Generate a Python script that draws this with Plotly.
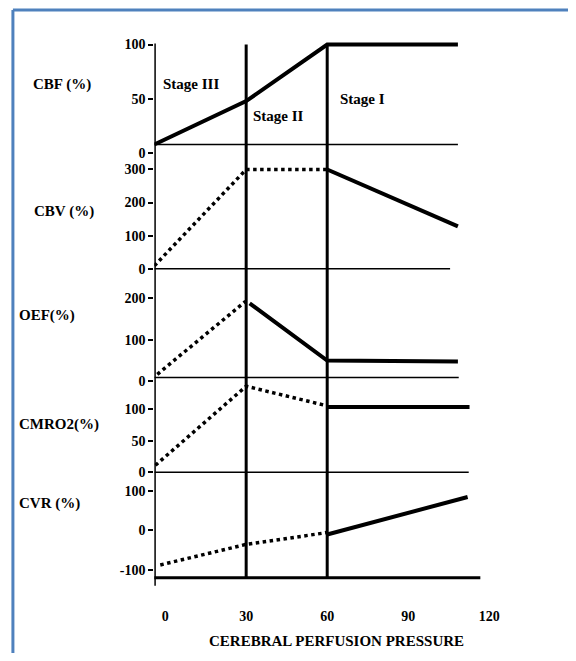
import plotly.graph_objects as go

# page is 576x661; the browser body has an 8px margin on every side,
# so the figure is sized to fill the page exactly and placed at (8, 8)
PAGE_W, PAGE_H = 576, 661
OFF = 8
W, H = PAGE_W - 2 * OFF, PAGE_H - 2 * OFF

# ---------------- data ----------------
x_ticks = [0, 30, 60, 90, 120]
x_tick_labels = ["0", "30", "60", "90", "120"]
stage_bounds = [30, 60]
x_axis_start = -4.0
x_axis_end = 116.7

panel_labels = ["CBF (%)", "CBV (%)", "OEF(%)", "CMRO2(%)", "CVR (%)"]
stage_labels = ["Stage III", "Stage II", "Stage I"]
x_title = "CEREBRAL PERFUSION PRESSURE"

# CBF
cbf_x = [-4.0, 30, 60, 108.4]
cbf_y = [8, 48, 100, 100]
cbf_ticks = [0, 50, 100]
cbf_tick_labels = ["0", "50", "100"]
cbf_base = 8
cbf_base_end = 108.4

# CBV
cbv_dot_x = [-4.0, 30, 60]
cbv_dot_y = [9, 300, 300]
cbv_solid_x = [60, 108.4]
cbv_solid_y = [300, 128]
cbv_ticks = [0, 100, 200, 300]
cbv_tick_labels = ["0", "100", "200", "300"]
cbv_base = 0
cbv_base_end = 105.5

# OEF
oef_dot_x = [-2.9, 29.8]
oef_dot_y = [17, 193]
oef_solid_x = [31.3, 60, 108.4]
oef_solid_y = [188, 50, 48]
oef_ticks = [0, 100, 200]
oef_tick_labels = ["0", "100", "200"]
oef_base = 9.5
oef_base_end = 108.7

# CMRO2
cmro2_dot_x = [-3.6, 30, 60]
cmro2_dot_y = [11, 136, 105]
cmro2_solid_x = [60, 112.7]
cmro2_solid_y = [103, 103]
cmro2_ticks = [0, 50, 100]
cmro2_tick_labels = ["0", "50", "100"]
cmro2_base = 0
cmro2_base_end = 112.4

# CVR
cvr_dot_x = [-1.8, 30, 60]
cvr_dot_y = [-88, -36, -6]
cvr_solid_x = [60, 112.0]
cvr_solid_y = [-11, 84]
cvr_ticks = [-100, 0, 100]
cvr_tick_labels = ["-100", "0", "100"]


# ---------------- layout helpers (page pixels -> paper fractions) ----------------
def fx(px):
    return (px - OFF) / W


def fy(py):
    return 1 - (py - OFF) / H


FONT = "Liberation Serif"
BLACK = "black"

# panel geometry: (axis name, page-pixel of value 0, pixels per unit, domain top px, domain bottom px)
panels = {
    "CBF": ("y2", 153.0, 1.10, 38, 158),
    "CBV": ("y3", 270.0, 0.335, 160, 274),
    "OEF": ("y4", 384.0, 0.42, 276, 386),
    "CMRO2": ("y5", 476.0, 0.64, 384, 482),
    "CVR": ("y", 534.7, 0.40, 484, 583),
}

# x scale: 2.75 px per unit, axis line at page x = 157
X_PX_PER_UNIT = 2.75
x_left_px = 157
x_range = [x_axis_start, 120.3]
x_right_px = x_left_px + (x_range[1] - x_range[0]) * X_PX_PER_UNIT

fig = go.Figure()

solid = dict(color=BLACK, width=4)
dotted = dict(color=BLACK, width=3.5, dash="dot")


def add(x, y, ax, line):
    fig.add_trace(go.Scatter(x=x, y=y, mode="lines", line=line, yaxis=ax,
                             xaxis="x", hoverinfo="skip", showlegend=False))


add(cbf_x, cbf_y, panels["CBF"][0], solid)
add(cbv_dot_x, cbv_dot_y, panels["CBV"][0], dotted)
add(cbv_solid_x, cbv_solid_y, panels["CBV"][0], solid)
add(oef_dot_x, oef_dot_y, panels["OEF"][0], dotted)
add(oef_solid_x, oef_solid_y, panels["OEF"][0], solid)
add(cmro2_dot_x, cmro2_dot_y, panels["CMRO2"][0], dotted)
add(cmro2_solid_x, cmro2_solid_y, panels["CMRO2"][0], solid)
add(cvr_dot_x, cvr_dot_y, panels["CVR"][0], dotted)
add(cvr_solid_x, cvr_solid_y, panels["CVR"][0], solid)

tick_font = dict(family=FONT, size=14, color=BLACK, weight="bold")
label_font = dict(family=FONT, size=15, color=BLACK, weight="bold")

ticks_map = {"CBF": (cbf_ticks, cbf_tick_labels), "CBV": (cbv_ticks, cbv_tick_labels),
             "OEF": (oef_ticks, oef_tick_labels), "CMRO2": (cmro2_ticks, cmro2_tick_labels),
             "CVR": (cvr_ticks, cvr_tick_labels)}

layout_axes = {}
for name, (ax, a, b, top, bottom) in panels.items():
    key = "yaxis" if ax == "y" else "yaxis" + ax[1:]
    tv, tt = ticks_map[name]
    layout_axes[key] = dict(
        domain=[fy(bottom), fy(top)],
        range=[(a - bottom) / b, (a - top) / b],
        anchor="x",
        showgrid=False, zeroline=False, showline=False,
        ticks="outside", ticklen=5, tickwidth=2, tickcolor=BLACK,
        tickvals=tv, ticktext=tt, tickfont=tick_font,
        ticklabelstandoff=0,
        fixedrange=True,
    )

fig.update_layout(
    width=W, height=H,
    margin=dict(l=0, r=0, t=0, b=0),
    paper_bgcolor="white", plot_bgcolor="white",
    showlegend=False,
    xaxis=dict(
        domain=[fx(x_left_px), fx(x_right_px)],
        range=x_range,
        anchor="y",
        showgrid=False, zeroline=False, showline=False,
        ticks="", tickvals=x_ticks, ticktext=x_tick_labels,
        tickfont=tick_font, ticklabelstandoff=28,
        fixedrange=True,
    ),
    **layout_axes,
)

shapes = []
# bottom axis line
shapes.append(dict(type="line", xref="x", yref="paper", x0=x_axis_start - 0.6, x1=x_axis_end,
                   y0=fy(583), y1=fy(583), line=dict(color=BLACK, width=3)))
# main vertical axis
shapes.append(dict(type="line", xref="x", yref="paper", x0=x_axis_start, x1=x_axis_start,
                   y0=fy(591), y1=fy(42), line=dict(color=BLACK, width=3)))
# stage boundaries
for xb in stage_bounds:
    shapes.append(dict(type="line", xref="x", yref="paper", x0=xb, x1=xb,
                       y0=fy(583), y1=fy(43), line=dict(color=BLACK, width=3)))
# thin baselines
for name, base, end in [("CBF", cbf_base, cbf_base_end), ("CBV", cbv_base, cbv_base_end),
                        ("OEF", oef_base, oef_base_end), ("CMRO2", cmro2_base, cmro2_base_end)]:
    ax = panels[name][0]
    shapes.append(dict(type="line", xref="x", yref=ax, x0=x_axis_start, x1=end,
                       y0=base, y1=base, line=dict(color=BLACK, width=1.5)))
# blue frame
frame_col = "#4f81bd"
shapes.append(dict(type="line", xref="paper", yref="paper", x0=fx(13), x1=fx(13),
                   y0=fy(8), y1=fy(700), line=dict(color=frame_col, width=3)))
shapes.append(dict(type="line", xref="paper", yref="paper", x0=fx(13), x1=fx(620),
                   y0=fy(8), y1=fy(8), line=dict(color=frame_col, width=3)))
fig.update_layout(shapes=shapes)

ann = []
panel_label_pos = [(31, 83), (32, 212), (17, 317), (17, 428), (17, 508)]
for text, (px, py) in zip(panel_labels, panel_label_pos):
    ann.append(dict(text=text, xref="paper", yref="paper", x=fx(px), y=fy(py),
                    xanchor="left", yanchor="middle", showarrow=False, font=label_font))
stage_pos = [(164, 83), (255, 115), (344, 98)]
for text, (px, py) in zip(stage_labels, stage_pos):
    ann.append(dict(text=text, xref="paper", yref="paper", x=fx(px), y=fy(py),
                    xanchor="left", yanchor="middle", showarrow=False, font=label_font))
ann.append(dict(text=x_title, xref="paper", yref="paper", x=fx(342), y=fy(647),
                xanchor="center", yanchor="middle", showarrow=False, font=label_font))
fig.update_layout(annotations=ann)

fig.write_html("out.html")
